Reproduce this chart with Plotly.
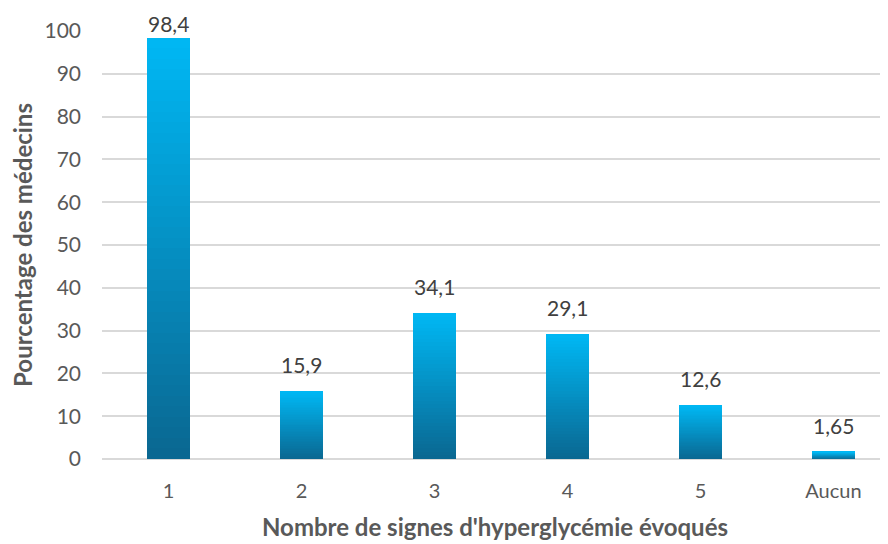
import plotly.graph_objects as go

categories = ["1", "2", "3", "4", "5", "Aucun"]
values = [98.4, 15.9, 34.1, 29.1, 12.6, 1.65]
y_ticks = list(range(0, 101, 10))

n_steps = 40
bottom_rgb = (10, 104, 146)
top_rgb = (0, 183, 243)


def blend(t):
    r, g, b = [round(bottom_rgb[i] + (top_rgb[i] - bottom_rgb[i]) * t) for i in range(3)]
    return f"rgb({r},{g},{b})"


fig = go.Figure()

# gradient bars: each bar stacked from thin slices, dark at bottom to light at top
for k in range(n_steps):
    fig.add_trace(go.Bar(
        x=categories,
        y=[v / n_steps for v in values],
        marker=dict(color=blend(k / (n_steps - 1)), line=dict(width=0)),
        hoverinfo="skip",
        showlegend=False,
    ))

# value labels above the bars, French decimal comma
# (category labels look numeric, so place by category index)
# labels near the top of the axis sit closer to the bar, like Excel does
for i, val in enumerate(values):
    fig.add_annotation(
        x=i, y=val,
        text=str(val).replace(".", ","),
        showarrow=False,
        yanchor="bottom",
        yshift=12 if val < 90 else 0,
        font=dict(family="Lato", size=21, color="#404040"),
    )

# page body has an 8px margin, so the figure is shifted; margins compensate
fig.update_layout(
    width=888,
    height=544,
    barmode="stack",
    bargap=0.68,
    plot_bgcolor="white",
    paper_bgcolor="white",
    margin=dict(t=23, l=94, r=8, b=93),
    font=dict(family="Lato", size=20, color="#595959"),
    xaxis=dict(
        type="category",
        range=[-0.5, 5.41],
        automargin=False,
        showgrid=False,
        showline=False,
        ticks="",
        ticklabelstandoff=18,
        tickfont=dict(size=20, color="#595959"),
        title=dict(text="<b>Nombre de signes d'hyperglycémie évoqués</b>",
                   font=dict(size=24, color="#595959"), standoff=18),
    ),
    yaxis=dict(
        range=[0, 100],
        automargin=False,
        tickvals=y_ticks,
        showgrid=True,
        gridcolor="#D9D9D9",
        gridwidth=1.5,
        zeroline=True,
        zerolinecolor="#D9D9D9",
        zerolinewidth=1.5,
        ticks="",
        ticklabelstandoff=20,
        tickfont=dict(size=21, color="#595959"),
        title=dict(text="<b>Pourcentage des médecins</b>",
                   font=dict(size=24, color="#595959"), standoff=10),
    ),
)

fig.write_html("out.html")
